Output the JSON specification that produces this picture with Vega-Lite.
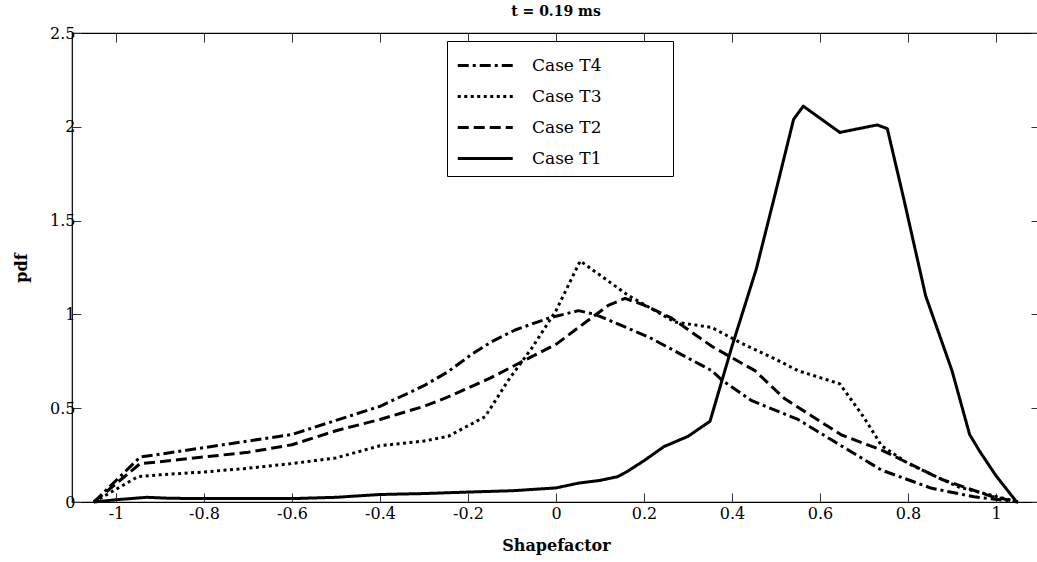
{
  "$schema": "https://vega.github.io/schema/vega-lite/v6.json",
  "width": 968,
  "height": 469,
  "autosize": {"type": "none"},
  "padding": {"left": 72, "top": 33, "right": 0, "bottom": 60},
  "background": "white",
  "title": {"text": "t = 0.19 ms", "font": "DejaVu Serif", "fontSize": 14, "fontWeight": "bold", "offset": 6, "anchor": "middle", "color": "black"},
  "config": {
    "view": {"stroke": "black", "strokeWidth": 1.2},
    "axis": {"grid": false, "labelFont": "DejaVu Serif", "labelFontSize": 16, "labelColor": "black", "titleFont": "DejaVu Serif", "titleFontSize": 16, "titleFontWeight": "bold", "titleColor": "black", "domainColor": "black", "tickColor": "#333333", "tickWidth": 1}
  },
  "data": {"values": [
    {"case": "Case T1", "x": -1.05, "pdf": 0},
    {"case": "Case T1", "x": -1.0, "pdf": 0.012},
    {"case": "Case T1", "x": -0.93, "pdf": 0.025},
    {"case": "Case T1", "x": -0.88, "pdf": 0.02},
    {"case": "Case T1", "x": -0.8, "pdf": 0.018},
    {"case": "Case T1", "x": -0.7, "pdf": 0.018},
    {"case": "Case T1", "x": -0.6, "pdf": 0.018},
    {"case": "Case T1", "x": -0.5, "pdf": 0.025},
    {"case": "Case T1", "x": -0.4, "pdf": 0.04},
    {"case": "Case T1", "x": -0.3, "pdf": 0.045},
    {"case": "Case T1", "x": -0.2, "pdf": 0.053},
    {"case": "Case T1", "x": -0.1, "pdf": 0.06},
    {"case": "Case T1", "x": 0.0, "pdf": 0.075},
    {"case": "Case T1", "x": 0.05, "pdf": 0.1},
    {"case": "Case T1", "x": 0.1, "pdf": 0.115},
    {"case": "Case T1", "x": 0.14, "pdf": 0.135},
    {"case": "Case T1", "x": 0.16, "pdf": 0.16},
    {"case": "Case T1", "x": 0.2, "pdf": 0.22},
    {"case": "Case T1", "x": 0.245, "pdf": 0.295},
    {"case": "Case T1", "x": 0.3, "pdf": 0.35},
    {"case": "Case T1", "x": 0.35, "pdf": 0.43},
    {"case": "Case T1", "x": 0.4, "pdf": 0.83},
    {"case": "Case T1", "x": 0.455, "pdf": 1.24},
    {"case": "Case T1", "x": 0.5, "pdf": 1.66},
    {"case": "Case T1", "x": 0.54, "pdf": 2.04},
    {"case": "Case T1", "x": 0.562, "pdf": 2.11},
    {"case": "Case T1", "x": 0.645, "pdf": 1.97},
    {"case": "Case T1", "x": 0.73, "pdf": 2.01},
    {"case": "Case T1", "x": 0.753, "pdf": 1.99},
    {"case": "Case T1", "x": 0.79, "pdf": 1.62},
    {"case": "Case T1", "x": 0.84, "pdf": 1.1},
    {"case": "Case T1", "x": 0.9, "pdf": 0.7},
    {"case": "Case T1", "x": 0.94, "pdf": 0.36},
    {"case": "Case T1", "x": 0.963, "pdf": 0.27},
    {"case": "Case T1", "x": 1.0, "pdf": 0.14},
    {"case": "Case T1", "x": 1.047, "pdf": 0},
    {"case": "Case T2", "x": -1.05, "pdf": 0},
    {"case": "Case T2", "x": -0.945, "pdf": 0.205},
    {"case": "Case T2", "x": -0.9, "pdf": 0.215},
    {"case": "Case T2", "x": -0.8, "pdf": 0.24},
    {"case": "Case T2", "x": -0.7, "pdf": 0.265},
    {"case": "Case T2", "x": -0.6, "pdf": 0.305},
    {"case": "Case T2", "x": -0.5, "pdf": 0.38},
    {"case": "Case T2", "x": -0.4, "pdf": 0.44},
    {"case": "Case T2", "x": -0.3, "pdf": 0.51},
    {"case": "Case T2", "x": -0.245, "pdf": 0.56},
    {"case": "Case T2", "x": -0.15, "pdf": 0.66},
    {"case": "Case T2", "x": -0.055, "pdf": 0.775},
    {"case": "Case T2", "x": 0.0, "pdf": 0.84},
    {"case": "Case T2", "x": 0.074, "pdf": 0.97},
    {"case": "Case T2", "x": 0.12, "pdf": 1.05},
    {"case": "Case T2", "x": 0.157, "pdf": 1.085},
    {"case": "Case T2", "x": 0.2, "pdf": 1.05},
    {"case": "Case T2", "x": 0.263, "pdf": 0.98},
    {"case": "Case T2", "x": 0.354, "pdf": 0.83},
    {"case": "Case T2", "x": 0.452, "pdf": 0.7},
    {"case": "Case T2", "x": 0.52, "pdf": 0.55},
    {"case": "Case T2", "x": 0.649, "pdf": 0.357},
    {"case": "Case T2", "x": 0.74, "pdf": 0.277},
    {"case": "Case T2", "x": 0.877, "pdf": 0.12},
    {"case": "Case T2", "x": 0.99, "pdf": 0.03},
    {"case": "Case T2", "x": 1.05, "pdf": 0},
    {"case": "Case T3", "x": -1.05, "pdf": 0},
    {"case": "Case T3", "x": -0.95, "pdf": 0.135},
    {"case": "Case T3", "x": -0.9, "pdf": 0.145},
    {"case": "Case T3", "x": -0.8, "pdf": 0.16},
    {"case": "Case T3", "x": -0.7, "pdf": 0.18},
    {"case": "Case T3", "x": -0.6, "pdf": 0.205},
    {"case": "Case T3", "x": -0.5, "pdf": 0.235},
    {"case": "Case T3", "x": -0.4, "pdf": 0.3},
    {"case": "Case T3", "x": -0.3, "pdf": 0.325},
    {"case": "Case T3", "x": -0.245, "pdf": 0.35},
    {"case": "Case T3", "x": -0.161, "pdf": 0.455},
    {"case": "Case T3", "x": -0.108, "pdf": 0.65},
    {"case": "Case T3", "x": -0.055, "pdf": 0.82},
    {"case": "Case T3", "x": 0.0, "pdf": 1.02},
    {"case": "Case T3", "x": 0.055, "pdf": 1.285},
    {"case": "Case T3", "x": 0.165, "pdf": 1.1},
    {"case": "Case T3", "x": 0.27, "pdf": 0.96},
    {"case": "Case T3", "x": 0.354, "pdf": 0.93},
    {"case": "Case T3", "x": 0.422, "pdf": 0.846},
    {"case": "Case T3", "x": 0.5, "pdf": 0.76},
    {"case": "Case T3", "x": 0.55, "pdf": 0.7},
    {"case": "Case T3", "x": 0.645, "pdf": 0.63},
    {"case": "Case T3", "x": 0.7, "pdf": 0.45},
    {"case": "Case T3", "x": 0.74, "pdf": 0.3},
    {"case": "Case T3", "x": 0.8, "pdf": 0.206},
    {"case": "Case T3", "x": 0.915, "pdf": 0.08},
    {"case": "Case T3", "x": 1.05, "pdf": 0},
    {"case": "Case T4", "x": -1.05, "pdf": 0},
    {"case": "Case T4", "x": -0.945, "pdf": 0.24},
    {"case": "Case T4", "x": -0.9, "pdf": 0.255},
    {"case": "Case T4", "x": -0.8, "pdf": 0.29},
    {"case": "Case T4", "x": -0.7, "pdf": 0.325},
    {"case": "Case T4", "x": -0.6, "pdf": 0.36},
    {"case": "Case T4", "x": -0.5, "pdf": 0.435},
    {"case": "Case T4", "x": -0.4, "pdf": 0.51},
    {"case": "Case T4", "x": -0.3, "pdf": 0.62},
    {"case": "Case T4", "x": -0.245, "pdf": 0.695},
    {"case": "Case T4", "x": -0.19, "pdf": 0.79},
    {"case": "Case T4", "x": -0.146, "pdf": 0.855},
    {"case": "Case T4", "x": -0.093, "pdf": 0.917},
    {"case": "Case T4", "x": -0.017, "pdf": 0.98},
    {"case": "Case T4", "x": 0.051, "pdf": 1.02},
    {"case": "Case T4", "x": 0.089, "pdf": 1.0},
    {"case": "Case T4", "x": 0.21, "pdf": 0.88},
    {"case": "Case T4", "x": 0.354, "pdf": 0.7},
    {"case": "Case T4", "x": 0.377, "pdf": 0.65},
    {"case": "Case T4", "x": 0.445, "pdf": 0.54},
    {"case": "Case T4", "x": 0.55, "pdf": 0.44},
    {"case": "Case T4", "x": 0.627, "pdf": 0.33},
    {"case": "Case T4", "x": 0.74, "pdf": 0.17},
    {"case": "Case T4", "x": 0.854, "pdf": 0.073},
    {"case": "Case T4", "x": 0.95, "pdf": 0.028},
    {"case": "Case T4", "x": 1.05, "pdf": 0}
  ]},
  "layer": [
    {
      "mark": {"type": "line", "strokeWidth": 3, "color": "black", "strokeCap": "butt", "strokeJoin": "round"},
      "encoding": {
        "x": {"field": "x", "type": "quantitative", "scale": {"domain": [-1.1, 1.1], "nice": false, "zero": false},
              "axis": {"orient": "bottom", "title": "Shapefactor", "values": [-1, -0.8, -0.6, -0.4, -0.2, 0, 0.2, 0.4, 0.6, 0.8, 1], "labelExpr": "datum.value < 0 ? '-' + format(-datum.value, '') : format(datum.value, '')", "tickSize": -9, "labelPadding": 12, "titlePadding": 16, "domain": false}},
        "y": {"field": "pdf", "type": "quantitative", "scale": {"domain": [0, 2.5], "nice": false},
              "axis": {"orient": "left", "title": "pdf", "values": [0, 0.5, 1, 1.5, 2, 2.5], "labelExpr": "format(datum.value, '')", "tickSize": -9, "labelPadding": 6, "titlePadding": 20, "domain": false}},
        "strokeDash": {"field": "case", "type": "nominal",
          "scale": {"domain": ["Case T4", "Case T3", "Case T2", "Case T1"], "range": [[11, 4, 3, 4], [3, 3.5], [11, 5], [1, 0]]},
          "legend": {"title": null, "orient": "none", "legendX": 375, "legendY": 8, "strokeColor": "black", "fillColor": "white", "padding": 9, "symbolType": "M-1,0H3", "symbolSize": 756, "symbolStrokeWidth": 3, "symbolStrokeColor": "black", "symbolFillColor": "transparent", "labelFont": "DejaVu Serif", "labelFontSize": 17, "labelColor": "black", "labelOffset": 45, "rowPadding": 7, "labelLimit": 300, "labelExpr": "datum.label + '\u2800\u2800\u2800\u2800\u2800'"}}
      }
    },
    {
      "mark": {"type": "line", "opacity": 0},
      "encoding": {
        "x": {"field": "x", "type": "quantitative", "scale": {"domain": [-1.1, 1.1], "nice": false, "zero": false},
              "axis": {"orient": "top", "title": null, "labels": false, "values": [-1, -0.8, -0.6, -0.4, -0.2, 0, 0.2, 0.4, 0.6, 0.8, 1], "tickSize": -9, "domain": false}},
        "y": {"field": "pdf", "type": "quantitative", "scale": {"domain": [0, 2.5], "nice": false},
              "axis": {"orient": "right", "title": null, "labels": false, "values": [0, 0.5, 1, 1.5, 2, 2.5], "tickSize": -9, "domain": false}},
        "detail": {"field": "case", "type": "nominal"}
      }
    }
  ],
  "resolve": {"axis": {"x": "independent", "y": "independent"}}
}
